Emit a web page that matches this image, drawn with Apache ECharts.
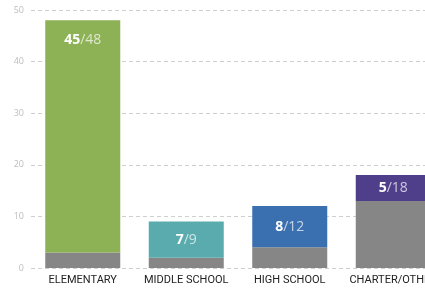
<!DOCTYPE html>
<html><head><meta charset="utf-8">
<script src="https://cdn.jsdelivr.net/npm/echarts@6/dist/echarts.min.js"></script>
<style>html,body{margin:0;padding:0;background:#fff;overflow:hidden;width:425px;height:290px}#c{width:445px;height:290px}</style>
</head><body><div id="c"></div>
<script>
const categories = ['ELEMENTARY', 'MIDDLE SCHOOL', 'HIGH SCHOOL', 'CHARTER/OTHER'];
const baseValues = [3, 2, 4, 13];
const topValues = [45, 7, 8, 5];
const totals = [48, 9, 12, 18];
const colors = ['#8db255', '#5aabad', '#3a6fb0', '#4f3f8b'];
const yTicks = [0, 10, 20, 30, 40, 50];

const chart = echarts.init(document.getElementById('c'), null, {renderer: 'canvas'});
const fontFam = '"Open Sans", "DejaVu Sans", sans-serif';
chart.setOption({
  animation: false,
  grid: {left: 31, top: 10, right: 0, bottom: 22, containLabel: false},
  xAxis: {
    type: 'category', data: categories,
    axisLine: {show: false}, axisTick: {show: false},
    axisLabel: {color: '#222', fontSize: 11, fontFamily: '"Roboto", sans-serif', margin: 7, interval: 0}
  },
  yAxis: {
    type: 'value', min: yTicks[0], max: yTicks[yTicks.length - 1], interval: 10,
    axisLine: {show: false}, axisTick: {show: false},
    axisLabel: {color: '#bdbdbd', fontSize: 9, fontFamily: fontFam, margin: 7},
    splitLine: {show: true, lineStyle: {color: '#cfcfcf', type: [4, 3], width: 1}}
  },
  series: [
    {
      type: 'bar', stack: 's', barWidth: 75,
      data: baseValues,
      itemStyle: {color: '#868686'},
      label: {show: false},
      z: 2
    },
    {
      type: 'bar', stack: 's', barWidth: 75,
      data: topValues.map((v, i) => ({
        value: v,
        itemStyle: {color: colors[i]},
        label: i === 0 ? {position: 'insideTop', distance: 13} : {position: 'inside'}
      })),
      label: {
        show: true,
        formatter: p => '{a|' + topValues[p.dataIndex] + '}{b|/' + totals[p.dataIndex] + '}',
        rich: {
          a: {color: '#ffffff', fontWeight: 'bold', fontSize: 14, fontFamily: fontFam},
          b: {color: 'rgba(255,255,255,0.7)', fontSize: 14, fontFamily: fontFam}
        }
      },
      z: 2
    }
  ]
});
</script></body></html>
